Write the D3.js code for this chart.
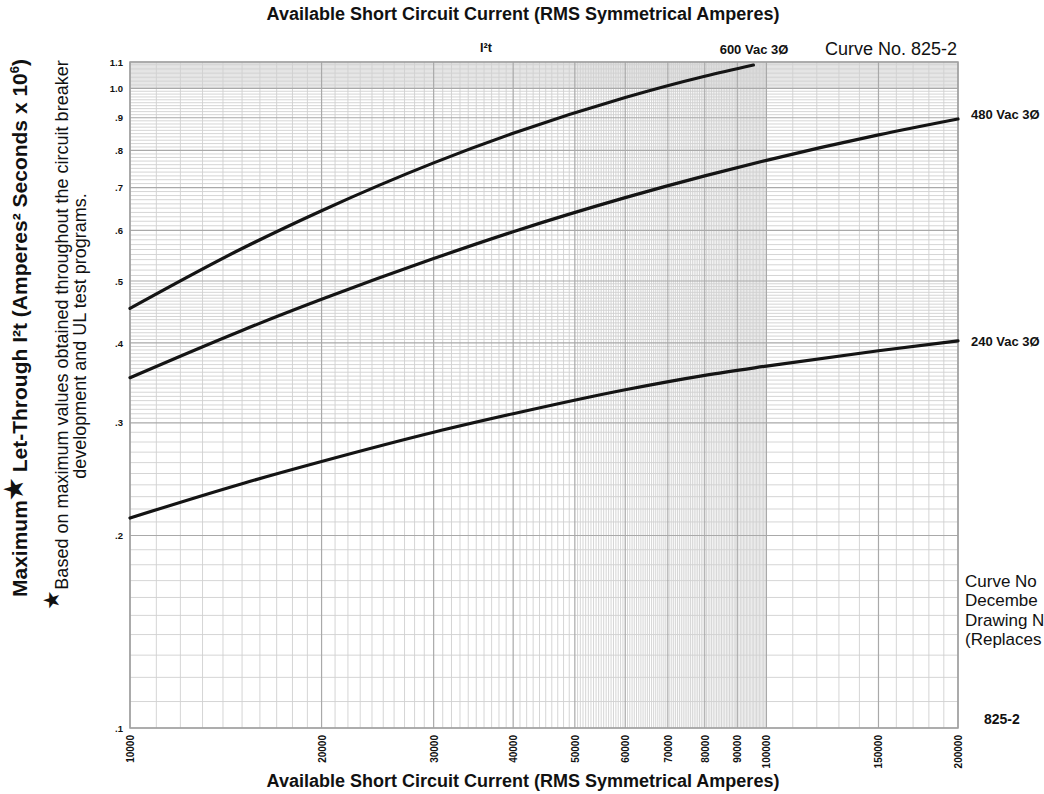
<!DOCTYPE html>
<html><head><meta charset="utf-8">
<script src="https://cdn.jsdelivr.net/npm/d3@7/dist/d3.min.js"></script>
<style>
body{margin:0;background:#fff}
svg{display:block}
text{font-family:"Liberation Sans",Arial,Helvetica,sans-serif;fill:#111}
</style>
</head><body>
<svg id="chart" width="1044" height="794"></svg>
<script>
// ---- data ----
const xTickValues = [10000,20000,30000,40000,50000,60000,70000,80000,90000,100000,150000,200000];
const xTickLabels = ["10000","20000","30000","40000","50000","60000","70000","80000","90000","100000","150000","200000"];
const yTickValues = [0.1,0.2,0.3,0.4,0.5,0.6,0.7,0.8,0.9,1.0,1.1];
const yTickLabels = [".1",".2",".3",".4",".5",".6",".7",".8",".9","1.0","1.1"];

const seriesNames = ["600 Vac 3Ø","480 Vac 3Ø","240 Vac 3Ø"];
const current600 = [10000,15000,20000,30000,40000,60000,80000,95400];
const i2t600     = [0.453,0.562,0.644,0.765,0.851,0.968,1.045,1.088];
const current480 = [10000,15000,20000,30000,40000,60000,80000,100000,150000,200000];
const i2t480     = [0.353,0.4185,0.468,0.542,0.597,0.675,0.730,0.772,0.846,0.896];
const current240 = [10000,15000,20000,30000,40000,60000,80000,100000,150000,200000];
const i2t240     = [0.213,0.241,0.261,0.290,0.310,0.338,0.356,0.368,0.389,0.403];

// ---- scales ----
const svg = d3.select("#chart");
const x = d3.scaleLog().domain([10000,200000]).range([130,958]);
const y = d3.scaleLog().domain([0.1,1.1]).range([728,62]);

// minor grid values (chart paper rulings)
const xMinor = [].concat(
  d3.range(11000,20000,1000),
  d3.range(21000,50000,1000),
  d3.range(50000,100000,500),
  d3.range(110000,200000,10000)
).filter(v=>!xTickValues.includes(v));
const yMinor = [].concat(
  d3.range(0.11,0.3,0.01),
  d3.range(0.305,0.5,0.005),
  d3.range(0.51,1.0,0.01),
  d3.range(1.005,1.1,0.005)
).map(v=>+v.toFixed(4)).filter(v=>!yTickValues.some(t=>Math.abs(t-v)<1e-6));

const grid = svg.append("g");
grid.selectAll("line.xm").data(xMinor).join("line")
  .attr("x1",d=>x(d)).attr("x2",d=>x(d)).attr("y1",y(1.1)).attr("y2",y(0.1))
  .attr("stroke","#d0d0d0").attr("stroke-width",0.9);
grid.selectAll("line.ym").data(yMinor).join("line")
  .attr("y1",d=>y(d)).attr("y2",d=>y(d)).attr("x1",x(10000)).attr("x2",x(200000))
  .attr("stroke","#d0d0d0").attr("stroke-width",0.9);
grid.selectAll("line.xM").data(xTickValues).join("line")
  .attr("x1",d=>x(d)).attr("x2",d=>x(d)).attr("y1",y(1.1)).attr("y2",y(0.1))
  .attr("stroke","#a9a9a9").attr("stroke-width",1.2);
grid.selectAll("line.yM").data(yTickValues).join("line")
  .attr("y1",d=>y(d)).attr("y2",d=>y(d)).attr("x1",x(10000)).attr("x2",x(200000))
  .attr("stroke","#a9a9a9").attr("stroke-width",1.2);
grid.append("rect").attr("x",x(10000)).attr("y",y(1.1))
  .attr("width",x(200000)-x(10000)).attr("height",y(0.1)-y(1.1))
  .attr("fill","none").attr("stroke","#a0a0a0").attr("stroke-width",1.5);

// ---- axes ----
const xAxis = d3.axisBottom(x).tickValues(xTickValues).tickFormat((d,i)=>xTickLabels[i]).tickSize(0);
const gx = svg.append("g").attr("transform",`translate(0,${y(0.1)})`).call(xAxis);
gx.select(".domain").remove();
gx.selectAll("text").attr("transform","rotate(-90)").attr("text-anchor","end")
  .attr("x",-7).attr("y",0).attr("dy","0.35em")
  .style("font-size","10px").style("font-weight","bold").style("font-family",'"Liberation Sans",Arial,sans-serif').attr("fill","#222");

const yAxis = d3.axisLeft(y).tickValues(yTickValues).tickFormat((d,i)=>yTickLabels[i]).tickSize(0);
const gy = svg.append("g").attr("transform",`translate(${x(10000)},0)`).call(yAxis);
gy.select(".domain").remove();
gy.selectAll("text").attr("x",-7).style("font-size","9.5px").style("font-weight","bold")
  .style("font-family",'"Liberation Sans",Arial,sans-serif').attr("fill","#222");

// ---- curves ----
const line = d3.line().x(d=>x(d[0])).y(d=>y(d[1])).curve(d3.curveMonotoneX);
const curves = [d3.zip(current600,i2t600), d3.zip(current480,i2t480), d3.zip(current240,i2t240)];
svg.append("g").selectAll("path").data(curves).join("path")
  .attr("d",line).attr("fill","none").attr("stroke","#141414").attr("stroke-width",3.2)
  .attr("stroke-linecap","round");

// ---- labels ----
function t(xp,yp,str,size,weight,anchor){
  return svg.append("text").attr("x",xp).attr("y",yp).text(str)
    .style("font-size",size+"px").style("font-weight",weight||"normal")
    .attr("text-anchor",anchor||"start");
}
t(523,20,"Available Short Circuit Current (RMS Symmetrical Amperes)",18,"bold","middle");
t(523,787,"Available Short Circuit Current (RMS Symmetrical Amperes)",18,"bold","middle");
t(486,52,"I²t",12.5,"bold","middle");
t(754,54,seriesNames[0],13,"bold","middle");
t(825,55,"Curve No. 825-2",18,"normal","start");
t(971,119,seriesNames[1],13,"bold","start");
t(971,346,seriesNames[2],13,"bold","start");
t(984,724,"825-2",14,"bold","start");
["Curve No","Decembe","Drawing N","(Replaces"].forEach((s,i)=>t(965,587+i*19.3,s,17,"normal","start"));

// vertical y-axis title
const yl = svg.append("text").attr("transform","translate(27,328) rotate(-90)")
  .attr("text-anchor","middle").style("font-size","21px").style("font-weight","bold");
yl.append("tspan").text("Maximum");
yl.append("tspan").text("★").style("font-size","24px").attr("dy","-5");
yl.append("tspan").text(" Let-Through I²t (Amperes² Seconds x 10").attr("dy","5");
yl.append("tspan").text("6").style("font-size","13px").attr("dy","-8");
yl.append("tspan").text(")").attr("dy","8");

const n1 = svg.append("text").attr("transform","translate(68,335) rotate(-90)")
  .attr("text-anchor","middle").style("font-size","18px");
n1.append("tspan").text("★").style("font-size","22px").attr("dy","-9");
n1.append("tspan").text("Based on maximum values obtained throughout the circuit breaker").attr("dy","9");
t(0,0,"development and UL test programs.",18,"normal","middle")
  .attr("transform","translate(86,336) rotate(-90)");
</script>
</body></html>
